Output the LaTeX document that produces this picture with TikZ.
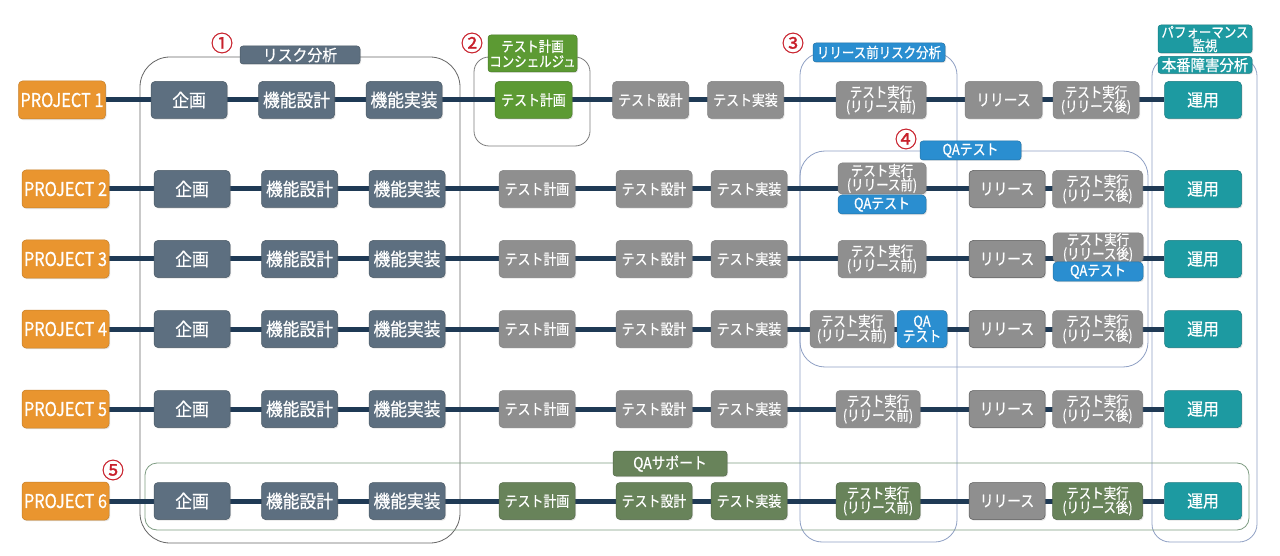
\documentclass[tikz,border=0pt]{standalone}
\usepackage{fontspec}
\newfontfamily\jpn[FakeStretch=0.86,FakeBold=0.6]{Noto Sans CJK JP}
\newfontfamily\jpw[FakeStretch=0.93,FakeBold=0.6]{Noto Sans CJK JP}
\newfontfamily\jpr[FakeBold=1]{Noto Sans CJK JP}
\usetikzlibrary{backgrounds,shadows}
\definecolor{orng}{HTML}{E9952F}
\definecolor{slate}{HTML}{5D6F80}
\definecolor{gry}{HTML}{8F8F8F}
\definecolor{lgreen}{HTML}{5C9A33}
\definecolor{olive}{HTML}{68835A}
\definecolor{blu}{HTML}{2A8ED0}
\definecolor{tealc}{HTML}{1D9AA1}
\definecolor{navy}{HTML}{1F3A55}
\definecolor{numred}{HTML}{C8202B}
\definecolor{frgray}{HTML}{666666}
\definecolor{frblue}{HTML}{8FA0C4}
\definecolor{frgreen}{HTML}{7E9C82}
\tikzset{
  bx/.style={rounded corners=4pt, inner sep=0pt, align=center, text=white,
    minimum height=37pt, line width=0.5pt,
    drop shadow={shadow xshift=1pt, shadow yshift=-1.2pt, opacity=0.22}},
  pbox/.style={bx, fill=orng, draw=orng!85!black, minimum width=87pt, minimum height=38pt,
    font=\jpn\fontsize{19}{19}\selectfont},
  sbox/.style={bx, fill=slate, draw=slate!80!black, minimum width=76pt,
    font=\jpw\fontsize{18}{18}\selectfont},
  gbox/.style={bx, fill=gry, draw=gry!90!black, minimum width=76pt,
    font=\jpn\fontsize{15}{15}\selectfont},
  gtwo/.style={gbox, font=\jpn\fontsize{14.5}{14}\selectfont},
  rbox/.style={gbox, draw=black!65, font=\jpn\fontsize{16}{16}\selectfont},
  lgbox/.style={bx, fill=lgreen, draw=lgreen!80!black, minimum width=77pt,
    font=\jpn\fontsize{15}{15}\selectfont},
  obox/.style={bx, fill=olive, draw=olive!80!black, minimum width=76pt,
    font=\jpn\fontsize{15}{15}\selectfont},
  otwo/.style={obox, font=\jpn\fontsize{14.5}{14}\selectfont},
  qbox/.style={bx, fill=blu, draw=blu!80!black, minimum width=88pt, minimum height=19pt,
    font=\jpn\fontsize{15}{15}\selectfont},
  ubox/.style={bx, fill=tealc, draw=tealc!80!black, minimum width=77pt,
    font=\jpw\fontsize{17}{17}\selectfont},
  lab/.style={rounded corners=3pt, inner sep=0pt, align=center, text=white, line width=0.5pt,
    drop shadow={shadow xshift=1pt, shadow yshift=-1pt, opacity=0.22}},
  num/.style={inner sep=0pt, text=numred, font=\jpr\fontsize{22}{22}\selectfont},
  rowline/.style={line width=5pt, navy},
  frame/.style={line width=0.8pt}
}
\begin{document}
\begin{tikzpicture}[x=1pt,y=-1pt]
\useasboundingbox (0,0) rectangle (1280,556);

% ---------- row 1 ----------
\node[pbox] (p1) at (62,100) {PROJECT 1};
\node[sbox] (k1) at (189,100) {企画};
\node[sbox] (fd1) at (296.5,100) {機能設計};
\node[sbox] (fi1) at (404,100) {機能実装};
\node[lgbox] (tp1) at (533.5,100) {テスト計画};
\node[gbox] (td1) at (650.5,100) {テスト設計};
\node[gbox] (ti1) at (745.5,100) {テスト実装};
\node[gtwo, minimum width=90pt] (te1) at (881,100) {テスト実行\\(リリース前)};
\node[gbox, minimum width=77pt, font=\jpn\fontsize{16}{16}\selectfont] (r1) at (1003.5,100) {リリース};
\node[gtwo, minimum width=86pt] (ta1) at (1096,100) {テスト実行\\(リリース後)};
\node[ubox] (u1) at (1203,100) {運用};

% ---------- rows 2-6 common part ----------
\foreach \r/\y in {2/189,3/259,4/329,5/409,6/501}{
  \node[pbox] (p\r) at (65.5,\y) {PROJECT \r};
  \node[sbox] (k\r) at (192,\y) {企画};
  \node[sbox] (fd\r) at (299.5,\y) {機能設計};
  \node[sbox] (fi\r) at (407,\y) {機能実装};
  \node[rbox] (r\r) at (1007,\y) {リリース};
  \node[ubox] (u\r) at (1203,\y) {運用};
}
\foreach \r/\y in {2/189,3/259,4/329,5/409}{
  \node[gbox] (tp\r) at (537,\y) {テスト計画};
  \node[gbox] (td\r) at (654,\y) {テスト設計};
  \node[gbox] (ti\r) at (749,\y) {テスト実装};
}
% row 2
\node[gtwo, minimum width=88pt, minimum height=31pt] (te2) at (882,178.5) {テスト実行\\(リリース前)};
\node[qbox] (qa2) at (882,204.5) {QAテスト};
\node[gtwo, minimum width=90pt] (ta2) at (1097.5,189) {テスト実行\\(リリース後)};
% row 3
\node[gtwo, minimum width=88pt] (te3) at (882,259) {テスト実行\\(リリース前)};
\node[gtwo, minimum width=90pt, minimum height=29pt] (ta3) at (1098,247.5) {テスト実行\\(リリース後)};
\node[qbox, minimum width=90pt] (qa3) at (1098,271.5) {QAテスト};
% row 4
\node[gtwo, minimum width=84pt] (te4) at (852,329) {テスト実行\\(リリース前)};
\node[qbox, minimum width=50pt, minimum height=37pt, font=\jpn\fontsize{15}{15}\selectfont] (qa4) at (922,329) {QA\\テスト};
\node[gtwo, minimum width=90pt] (ta4) at (1097.5,329) {テスト実行\\(リリース後)};
% row 5
\node[gtwo, minimum width=84pt] (te5) at (878,409) {テスト実行\\(リリース前)};
\node[gtwo, minimum width=90pt] (ta5) at (1097.5,409) {テスト実行\\(リリース後)};
% row 6
\node[obox] (tp6) at (537,501) {テスト計画};
\node[obox] (td6) at (654,501) {テスト設計};
\node[obox] (ti6) at (749,501) {テスト実装};
\node[otwo, minimum width=84pt] (te6) at (878,501) {テスト実行\\(リリース前)};
\node[otwo, minimum width=90pt] (ta6) at (1097.5,501) {テスト実行\\(リリース後)};

% ---------- background, frames and row lines ----------
\begin{scope}[on background layer]
  \fill[white] (0,0) rectangle (1280,556);
  \draw[frame, frgray, rounded corners=30pt] (140,57) rectangle (460,543);
  \draw[frame, frgray!85, rounded corners=15pt] (474,57) rectangle (590,146);
  \draw[frame, frblue, rounded corners=22pt] (800,53) rectangle (957,542);
  \draw[frame, frblue, rounded corners=18pt] (1152,58) rectangle (1257,542);
  \draw[frame, frblue, rounded corners=25pt] (800,151) rectangle (1148,367);
  \draw[frame, frgreen, rounded corners=12pt] (145,463) rectangle (1249,530);
  \foreach \r in {1,...,6}{
    \draw[rowline] (p\r.east) -- (u\r.west);
  }
\end{scope}

% ---------- group labels ----------
\node[lab, fill=slate, draw=slate!80!black, minimum width=120pt, minimum height=18pt,
  font=\jpw\fontsize{16}{16}\selectfont] (L1) at (300,55) {リスク分析};
\node[lab, fill=lgreen, draw=lgreen!80!black, minimum width=89pt, minimum height=37pt,
  font=\jpn\fontsize{14.5}{15}\selectfont] (L2) at (532.5,53.5) {テスト計画\\コンシェルジュ};
\node[lab, fill=blu, draw=blu!80!black, minimum width=132pt, minimum height=19pt,
  font=\jpn\fontsize{14.5}{15}\selectfont] (L3) at (879,52.5) {リリース前リスク分析};
\node[lab, fill=blu, draw=blu!80!black, minimum width=101pt, minimum height=19pt,
  font=\jpn\fontsize{15}{15}\selectfont] (L4) at (970.5,150.5) {QAテスト};
\node[lab, fill=tealc, draw=tealc!80!black, minimum width=94pt, minimum height=28pt,
  font=\jpn\fontsize{14.5}{13.5}\selectfont] (L5a) at (1205,39) {パフォーマンス\\監視};
\node[lab, fill=tealc, draw=tealc!80!black, minimum width=94pt, minimum height=17pt,
  font=\jpw\fontsize{15.5}{15}\selectfont] (L5b) at (1205,65) {本番障害分析};
\node[lab, fill=olive, draw=olive!80!black, minimum width=114pt, minimum height=25pt,
  font=\jpn\fontsize{16}{16}\selectfont] (L6) at (670,463.5) {QAサポート};

% ---------- circled numbers ----------
\node[num] (n1) at (222,43) {①};
\node[num] (n2) at (472,43) {②};
\node[num] (n3) at (793,43) {③};
\node[num] (n4) at (906,139) {④};
\node[num] (n5) at (113,470) {⑤};
\end{tikzpicture}
\end{document}
